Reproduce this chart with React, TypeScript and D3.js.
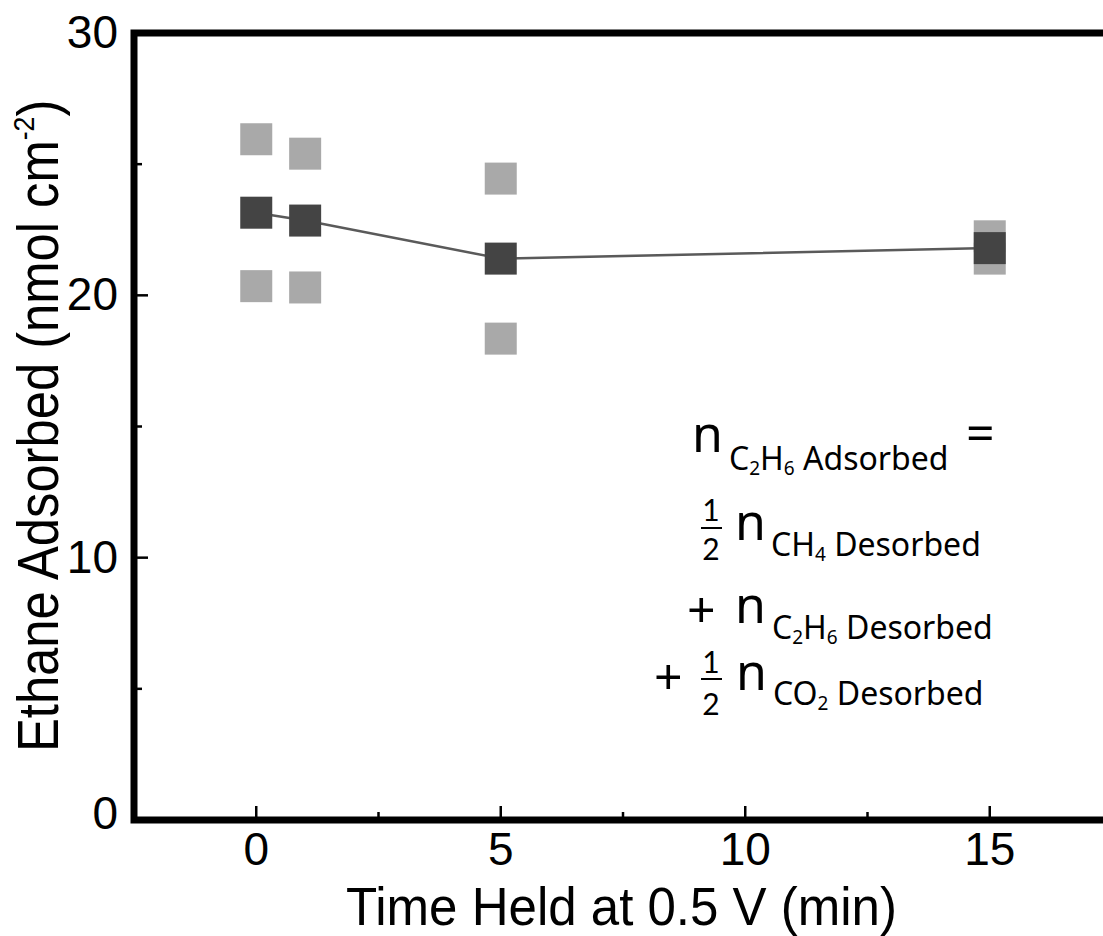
import React from "react";
import * as d3 from "d3";

const times = [0, 1, 5, 15];
const meanValues = [23.15, 22.85, 21.4, 21.8];
const trialHigh = [25.95, 25.4, 24.45, 22.25];
const trialLow = [20.35, 20.3, 18.35, 21.4];
const xMajorTicks = [0, 5, 10, 15];
const xMinorTicks = [2.5, 7.5, 12.5];
const yMajorTicks = [0, 10, 20, 30];
const yMinorTicks = [5, 15, 25];

const W = 1103;
const H = 936;
const LEFT = 134;
const TOP = 33;
const BOTTOM = 820;
const RIGHT = 1112;

const x = d3.scaleLinear().domain([-2.5, 17.5]).range([LEFT, RIGHT]);
const y = d3.scaleLinear().domain([0, 30]).range([BOTTOM, TOP]);

const SQ = 32;
const DARK = "#444444";
const LIGHT = "#a9a9a9";

const axisFont = "'Liberation Sans', Arial, Helvetica, sans-serif";
const eqFont = "'Noto Sans', 'Open Sans', sans-serif";
const fracFont = "Lato, 'Noto Sans', sans-serif";

export default function App() {
  const line = d3
    .line<number>()
    .x((_, i) => x(times[i]))
    .y((d) => y(d));

  const lightPts: [number, number][] = [];
  times.forEach((t, i) => {
    lightPts.push([t, trialHigh[i]]);
    lightPts.push([t, trialLow[i]]);
  });

  return (
    <svg
      width={W}
      height={H}
      style={{ position: "absolute", left: 0, top: 0, background: "#fff" }}
    >
      {/* light squares: individual trials */}
      {lightPts.map(([t, v], i) => (
        <rect
          key={"l" + i}
          x={x(t) - SQ / 2}
          y={y(v) - SQ / 2}
          width={SQ}
          height={SQ}
          fill={LIGHT}
        />
      ))}
      {/* mean line */}
      <path d={line(meanValues) || ""} fill="none" stroke="#5a5a5a" strokeWidth={2.5} />
      {/* dark squares: mean */}
      {meanValues.map((v, i) => (
        <rect
          key={"d" + i}
          x={x(times[i]) - SQ / 2}
          y={y(v) - SQ / 2}
          width={SQ}
          height={SQ}
          fill={DARK}
        />
      ))}

      {/* frame */}
      <rect
        x={LEFT}
        y={TOP}
        width={RIGHT - LEFT}
        height={BOTTOM - TOP}
        fill="none"
        stroke="#000"
        strokeWidth={7}
      />

      {/* x ticks */}
      {xMajorTicks.map((t) => (
        <g key={"xt" + t}>
          <line x1={x(t)} x2={x(t)} y1={BOTTOM} y2={BOTTOM - 14} stroke="#000" strokeWidth={2.5} />
          <text
            x={x(t)}
            y={865}
            textAnchor="middle"
            fontFamily={axisFont}
            fontSize={46}
            fill="#000"
          >
            {t}
          </text>
        </g>
      ))}
      {xMinorTicks.map((t) => (
        <line key={"xm" + t} x1={x(t)} x2={x(t)} y1={BOTTOM} y2={BOTTOM - 8} stroke="#000" strokeWidth={2.5} />
      ))}

      {/* y ticks */}
      {yMajorTicks.map((t) => (
        <g key={"yt" + t}>
          <line x1={LEFT} x2={LEFT + 14} y1={y(t)} y2={y(t)} stroke="#000" strokeWidth={2.5} />
          <text
            x={118}
            y={y(t) + (t === 0 ? -7 : -1)}
            textAnchor="end"
            dominantBaseline="central"
            fontFamily={axisFont}
            fontSize={46}
            fill="#000"
          >
            {t}
          </text>
        </g>
      ))}
      {yMinorTicks.map((t) => (
        <line key={"ym" + t} x1={LEFT} x2={LEFT + 8} y1={y(t)} y2={y(t)} stroke="#000" strokeWidth={2.5} />
      ))}

      {/* axis titles */}
      <text
        x={346}
        y={925}
        fontFamily={axisFont}
        fontSize={53}
        textLength={551}
        lengthAdjust="spacingAndGlyphs"
        fill="#000"
      >
        Time Held at 0.5 V (min)
      </text>
      <g transform="translate(58,752) rotate(-90) scale(0.89,1)">
        <text x={0} y={0} fontFamily={axisFont} fontSize={57} fill="#000">
          Ethane Adsorbed (nmol cm
          <tspan fontSize={30} dy={-24}>-2</tspan>
          <tspan dy={24}>)</tspan>
        </text>
      </g>

      {/* equation */}
      <g fontFamily={eqFont} fill="#000">
        {/* line 1 */}
        <text x={692} y={452} fontSize={50}>n</text>
        <text x={729} y={470} fontSize={32}>
          C<tspan fontSize={19} dy={5}>2</tspan>
          <tspan dy={-5}>H</tspan>
          <tspan fontSize={19} dy={5}>6</tspan>
          <tspan dy={-5}> Adsorbed</tspan>
        </text>
        <text x={966} y={451} fontSize={50}>=</text>

        {/* line 2 */}
        <text x={711} y={521} fontSize={30} fontFamily={fracFont} textAnchor="middle">1</text>
        <line x1={701} x2={722} y1={528} y2={528} stroke="#000" strokeWidth={2} />
        <text x={711} y={560} fontSize={30} fontFamily={fracFont} textAnchor="middle">2</text>
        <text x={735} y={540} fontSize={50}>n</text>
        <text x={771} y={556} fontSize={32}>
          CH<tspan fontSize={19} dy={5}>4</tspan>
          <tspan dy={-5}> Desorbed</tspan>
        </text>

        {/* line 3 */}
        <text x={687} y={627} fontSize={50}>+</text>
        <text x={735} y={623} fontSize={50}>n</text>
        <text x={772} y={639} fontSize={32}>
          C<tspan fontSize={19} dy={5}>2</tspan>
          <tspan dy={-5}>H</tspan>
          <tspan fontSize={19} dy={5}>6</tspan>
          <tspan dy={-5}> Desorbed</tspan>
        </text>

        {/* line 4 */}
        <text x={654} y={694} fontSize={50}>+</text>
        <text x={711} y={673} fontSize={30} fontFamily={fracFont} textAnchor="middle">1</text>
        <line x1={701} x2={722} y1={679} y2={679} stroke="#000" strokeWidth={2} />
        <text x={711} y={715} fontSize={30} fontFamily={fracFont} textAnchor="middle">2</text>
        <text x={736} y={690} fontSize={50}>n</text>
        <text x={773} y={705} fontSize={32}>
          CO<tspan fontSize={19} dy={5}>2</tspan>
          <tspan dy={-5}> Desorbed</tspan>
        </text>
      </g>
    </svg>
  );
}
